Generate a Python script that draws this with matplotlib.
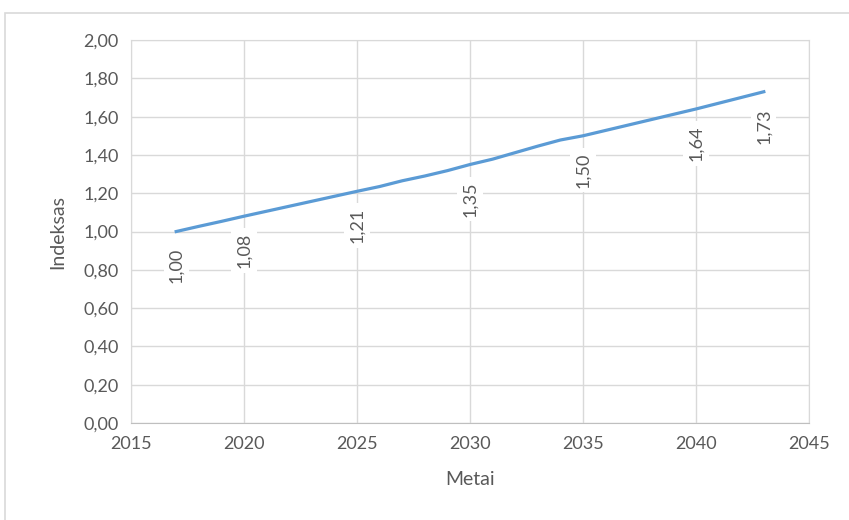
import matplotlib.pyplot as plt
from matplotlib.patches import Rectangle
from matplotlib.ticker import FuncFormatter, MultipleLocator

# index by year
years = list(range(2017, 2044))
index = [1.000, 1.027, 1.053, 1.080, 1.106, 1.132, 1.158, 1.184, 1.210,
         1.235, 1.265, 1.290, 1.318, 1.350, 1.378, 1.412, 1.446, 1.478,
         1.500, 1.528, 1.556, 1.584, 1.612, 1.640, 1.670, 1.700, 1.730]
label_years = [2017, 2020, 2025, 2030, 2035, 2040, 2043]

txt = '#595959'
grid = '#d9d9d9'
plt.rcParams['font.family'] = ['Lato', 'DejaVu Sans']

fig = plt.figure(figsize=(8.49, 5.2), dpi=100)
fig.patches.append(Rectangle((0.006, -0.1), 1.1, 1.075, transform=fig.transFigure,
                             fill=False, edgecolor=grid, linewidth=1.2))
ax = fig.add_axes([0.1543, 0.1865, 0.7986, 0.7365])

ax.plot(years, index, color='#5b9bd5', linewidth=2.3, zorder=3)

for y in label_years:
    v = index[years.index(y)]
    ax.annotate(f'{v:.2f}'.replace('.', ','), (y, v), xytext=(0, -12),
                textcoords='offset points', rotation=90, ha='center', va='top',
                fontsize=13, color=txt, zorder=4,
                bbox=dict(boxstyle='square,pad=0.25', fc='white', ec='none'))

ax.set_xlim(2015, 2045)
ax.set_ylim(0, 2)
ax.xaxis.set_major_locator(MultipleLocator(5))
ax.yaxis.set_major_locator(MultipleLocator(0.2))
ax.yaxis.set_major_formatter(FuncFormatter(lambda v, p: f'{v:.2f}'.replace('.', ',')))
ax.grid(True, color=grid, linewidth=1)
ax.set_axisbelow(True)
for s in ax.spines.values():
    s.set_color(grid)
ax.spines['bottom'].set_color('#bfbfbf')
ax.tick_params(length=0, labelsize=13, labelcolor=txt, pad=9)
ax.set_xlabel('Metai', fontsize=14, color=txt, labelpad=14)
ax.set_ylabel('Indeksas', fontsize=14, color=txt, labelpad=12)

fig.savefig('out.png', dpi=100)
